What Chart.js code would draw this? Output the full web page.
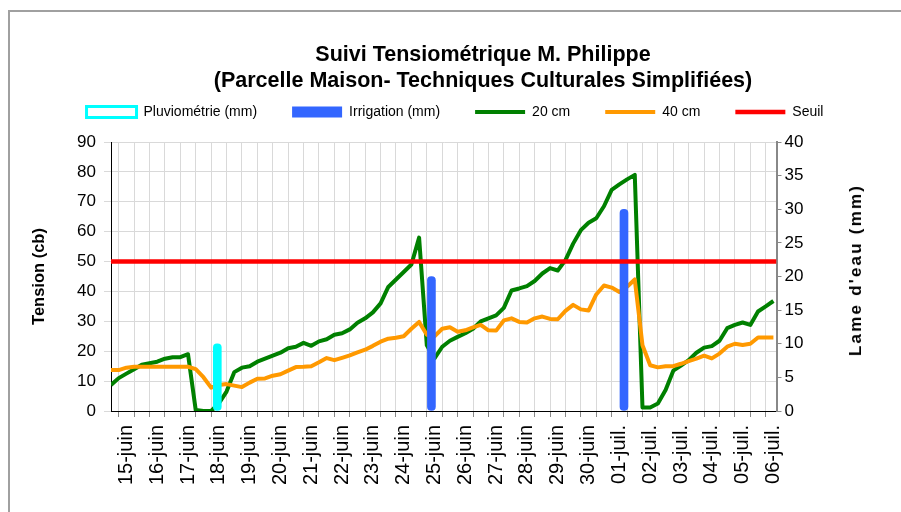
<!DOCTYPE html>
<html>
<head>
<meta charset="utf-8">
<script src="https://cdn.jsdelivr.net/npm/chart.js@4.4.1/dist/chart.umd.min.js"></script>
<style>
  html, body { margin: 0; padding: 0; background: #fff; overflow: hidden; }
  body { width: 901px; height: 512px; position: relative; font-family: 'Liberation Sans', Arial, sans-serif; }
  #frame { position: absolute; left: 8px; top: 10px; width: 920px; height: 530px; border: 2px solid #a0a0a0; }
  #title { position: absolute; left: 133px; width: 700px; top: 41px; text-align: center; font-weight: bold; font-size: 21.5px; line-height: 26px; white-space: nowrap; }
  #rightTitle { position: absolute; left: 856px; top: 270px; transform: translate(-50%, -50%) rotate(-90deg); font-weight: bold; font-size: 17px; letter-spacing: 2.2px; white-space: nowrap; }
  #wrap { position: absolute; left: 9px; top: 18px; width: 892px; height: 494px; }
</style>
</head>
<body>
<div id="frame"></div>
<div id="wrap"><canvas id="chart" width="892" height="494"></canvas></div>
<div id="title">Suivi Tensiométrique M. Philippe<br>(Parcelle Maison- Techniques Culturales Simplifiées)</div>
<div id="rightTitle">Lame d'eau (mm)</div>
<script>
// day labels on the x axis (one tick per day)
const dayLabels = ['15-juin', '16-juin', '17-juin', '18-juin', '19-juin', '20-juin', '21-juin',
    '22-juin', '23-juin', '24-juin', '25-juin', '26-juin', '27-juin', '28-juin', '29-juin',
    '30-juin', '01-juil.', '02-juil.', '03-juil.', '04-juil.', '05-juil.', '06-juil.'];

// readings every 6 h, first one half a day before 15-juin
const xStart = -0.5;
const xStep = 0.25;
const xMax = 21.1;

// tension (cb) at 20 cm
const tension20 = [8.7, 11, 12.5, 14, 15.5, 16, 16.5, 17.5, 18, 18,
    19, 0.3, 0, 0, 2.5, 6.5, 13, 14.5, 15, 16.5,
    17.5, 18.5, 19.5, 21, 21.5, 22.8, 21.8, 23.3, 24, 25.5,
    26, 27.3, 29.5, 31, 33, 36, 41.5, 44, 46.5, 49,
    58, 22, 17.6, 21.5, 23.5, 24.8, 26, 27.5, 30, 31,
    32, 34.5, 40.3, 41, 41.8, 43.5, 46, 47.8, 47, 50.5,
    56, 60.5, 63, 64.5, 68.5, 74, 75.8, 77.5, 79, 1.2,
    1.2, 2.5, 7, 13.5, 15.2, 17, 19.5, 21.2, 21.7, 23.5,
    27.7, 28.8, 29.6, 28.8, 33.3, 35, 36.8];

// tension (cb) at 40 cm
const tension40 = [13.7, 13.7, 14.5, 14.8, 14.8, 14.8, 14.8, 14.8, 14.8, 14.8,
    14.8, 14, 11.3, 7.8, 8.7, 9, 8.5, 8, 9.5, 10.8,
    10.9, 11.8, 12.3, 13.5, 14.7, 14.8, 15, 16.3, 17.7, 17,
    17.8, 18.6, 19.6, 20.5, 21.8, 23.2, 24.2, 24.5, 25, 27.5,
    29.8, 25.5, 25, 27.5, 28, 26.5, 27, 28, 28.8, 27,
    26.9, 30.3, 31, 29.8, 29.6, 31, 31.6, 30.8, 30.7, 33.5,
    35.5, 34, 33.6, 39, 42, 41.3, 39.8, 41.6, 44, 22,
    15.3, 14.6, 15, 15, 15.8, 16.7, 17.5, 18.5, 17.6, 19.2,
    21.5, 22.5, 22.1, 22.5, 24.6, 24.6, 24.6];

const seuil = 50;

// water supplied (mm), right axis
const pluvioDay = [2.95];
const pluvioMm = [10];
const irrigDay = [9.9, 16.15];
const irrigMm = [20, 30];

const font = "'Liberation Sans', Arial, sans-serif";
Chart.defaults.font.family = font;
Chart.defaults.color = '#000';

const toPoints = arr => arr.map((v, i) => ({ x: xStart + i * xStep, y: v }));

// leaves some room between the legend and the plot
const legendGap = {
    id: 'legendGap',
    beforeInit(chart) {
        const fit = chart.legend.fit;
        chart.legend.fit = function () {
            fit.call(this);
            this.height += 13;
        };
    }
};

new Chart(document.getElementById('chart'), {
    type: 'line',
    data: {
        datasets: [{
            type: 'bar',
            label: 'Pluviométrie (mm)',
            data: pluvioDay.map((d, i) => ({ x: d, y: pluvioMm[i] })),
            yAxisID: 'y1',
            backgroundColor: '#00FFFF',
            barThickness: 8,
            borderRadius: 4,
            borderSkipped: false,
            grouped: false,
            pointStyle: 'rect',
            order: 1
        }, {
            type: 'bar',
            label: 'Irrigation (mm)',
            data: irrigDay.map((d, i) => ({ x: d, y: irrigMm[i] })),
            yAxisID: 'y1',
            backgroundColor: '#3366FF',
            barThickness: 8,
            borderRadius: 4,
            borderSkipped: false,
            grouped: false,
            pointStyle: 'rect',
            order: 2
        }, {
            label: '20 cm',
            data: toPoints(tension20),
            yAxisID: 'y',
            borderColor: '#008000',
            backgroundColor: '#008000',
            borderWidth: 4,
            borderJoinStyle: 'round',
            pointRadius: 0,
            pointStyle: 'line',
            tension: 0,
            order: 4
        }, {
            label: '40 cm',
            data: toPoints(tension40),
            yAxisID: 'y',
            borderColor: '#FF9900',
            backgroundColor: '#FF9900',
            borderWidth: 4,
            borderJoinStyle: 'round',
            pointRadius: 0,
            pointStyle: 'line',
            tension: 0,
            order: 3
        }, {
            label: 'Seuil',
            data: [{ x: xStart, y: seuil }, { x: xMax, y: seuil }],
            yAxisID: 'y',
            borderColor: '#FF0000',
            backgroundColor: '#FF0000',
            borderWidth: 4.5,
            pointRadius: 0,
            pointStyle: 'line',
            order: 0
        }]
    },
    options: {
        responsive: false,
        animation: false,
        layout: { padding: { top: 52, left: 0, right: 0, bottom: 0 } },
        plugins: {
            tooltip: { enabled: false },
            legend: {
                position: 'top',
                labels: {
                    usePointStyle: true,
                    pointStyleWidth: 50,
                    boxHeight: 11,
                    padding: 35,
                    font: { family: font, size: 14 },
                    sort: (a, b) => a.datasetIndex - b.datasetIndex,
                    generateLabels(chart) {
                        const items = Chart.defaults.plugins.legend.labels.generateLabels(chart);
                        items.forEach(it => {
                            if (it.datasetIndex === 0) {
                                it.fillStyle = '#FFFFFF';
                                it.strokeStyle = '#00FFFF';
                                it.lineWidth = 3;
                            }
                        });
                        return items;
                    }
                }
            }
        },
        scales: {
            x: {
                type: 'linear',
                min: xStart,
                max: xMax,
                offset: false,
                afterFit: s => { s.height = 101; },
                grid: { color: '#d9d9d9', tickLength: 6, tickColor: '#888' },
                border: { color: '#000', width: 1 },
                ticks: {
                    stepSize: 0.5,
                    includeBounds: false,
                    autoSkip: false,
                    minRotation: 90,
                    maxRotation: 90,
                    padding: 8,
                    font: { family: font, size: 20 },
                    callback: v => Number.isInteger(v) ? dayLabels[v] : ''
                }
            },
            y: {
                position: 'left',
                min: 0,
                max: 90,
                afterFit: s => { s.width = 102; },
                grid: { color: '#d9d9d9', tickLength: 7 },
                border: { color: '#000', width: 1 },
                ticks: { stepSize: 10, padding: 8, font: { family: font, size: 17 } },
                title: {
                    display: true,
                    text: 'Tension (cb)',
                    font: { family: font, size: 16.5, weight: 'bold' },
                    padding: { top: 21, bottom: 0 }
                }
            },
            y1: {
                position: 'right',
                min: 0,
                max: 40,
                afterFit: s => { s.width = 124.5; },
                grid: { drawOnChartArea: false, tickLength: 5, color: '#888' },
                border: { color: '#888', width: 2 },
                ticks: { stepSize: 5, padding: 3, font: { family: font, size: 17 } }
            }
        }
    },
    plugins: [legendGap]
});
</script>
</body>
</html>
